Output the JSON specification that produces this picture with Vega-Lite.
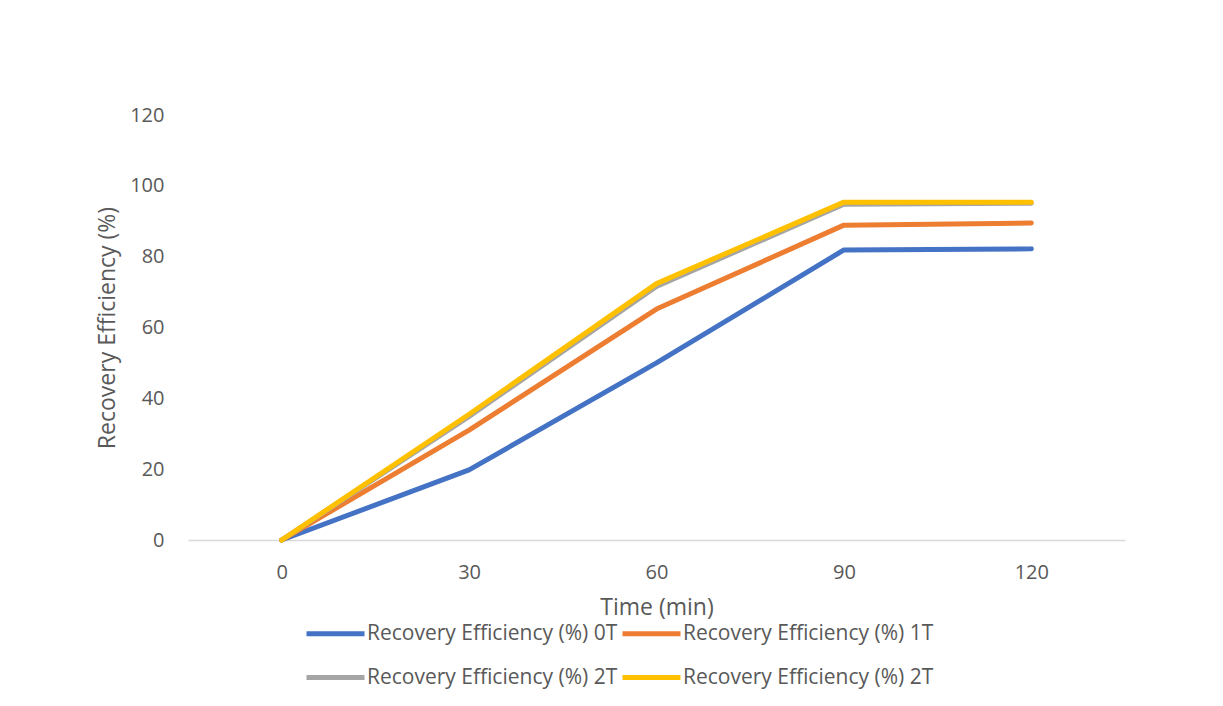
{
  "$schema": "https://vega.github.io/schema/vega-lite/v6.json",
  "autosize": {"type": "none"},
  "width": 937,
  "height": 425,
  "padding": {"left": 188, "top": 115, "right": 98, "bottom": 166},
  "background": "white",
  "config": {
    "view": {"stroke": null},
    "font": "Open Sans",
    "axis": {"labelColor": "#595959", "titleColor": "#595959", "labelFont": "Open Sans", "titleFont": "Open Sans", "titleFontWeight": "normal"},
    "legend": {"labelFont": "Open Sans"}
  },
  "data": {
    "values": [
      {"time": 0, "series": "0T", "value": 0},
      {"time": 30, "series": "0T", "value": 19.8},
      {"time": 60, "series": "0T", "value": 50},
      {"time": 90, "series": "0T", "value": 81.9},
      {"time": 120, "series": "0T", "value": 82.2},
      {"time": 0, "series": "1T", "value": 0},
      {"time": 30, "series": "1T", "value": 31},
      {"time": 60, "series": "1T", "value": 65.2},
      {"time": 90, "series": "1T", "value": 88.9},
      {"time": 120, "series": "1T", "value": 89.5},
      {"time": 0, "series": "2T", "value": 0},
      {"time": 30, "series": "2T", "value": 34.9},
      {"time": 60, "series": "2T", "value": 71.6},
      {"time": 90, "series": "2T", "value": 94.8},
      {"time": 120, "series": "2T", "value": 95.1},
      {"time": 0, "series": "2T*", "value": 0},
      {"time": 30, "series": "2T*", "value": 35.5},
      {"time": 60, "series": "2T*", "value": 72.4},
      {"time": 90, "series": "2T*", "value": 95.4},
      {"time": 120, "series": "2T*", "value": 95.4}
    ]
  },
  "mark": {"type": "line", "strokeWidth": 5, "strokeCap": "round", "strokeJoin": "round"},
  "encoding": {
    "x": {
      "field": "time", "type": "ordinal",
      "scale": {"padding": 0.5},
      "axis": {"title": "Time (min)", "labelAngle": 0, "labelFontSize": 20, "titleFontSize": 23, "ticks": false, "domainColor": "#D9D9D9", "domainWidth": 1.5, "labelPadding": 22, "titlePadding": 14, "grid": false}
    },
    "y": {
      "field": "value", "type": "quantitative",
      "scale": {"domain": [0, 120]},
      "axis": {"title": "Recovery Efficiency (%)", "values": [0, 20, 40, 60, 80, 100, 120], "labelFontSize": 20, "titleFontSize": 23, "ticks": false, "domain": false, "grid": false, "labelPadding": 24, "titlePadding": 10}
    },
    "color": {
      "field": "series", "type": "nominal",
      "scale": {"domain": ["0T", "1T", "2T", "2T*"], "range": ["#4472C4", "#ED7D31", "#A5A5A5", "#FFC000"]},
      "legend": {
        "title": null, "orient": "none", "legendX": 116, "legendY": 487, "columns": 2, "direction": "horizontal",
        "symbolType": "stroke", "symbolSize": 3364, "symbolStrokeWidth": 5,
        "labelExpr": "'Recovery Efficiency (%) ' + replace(datum.label, '*', '')",
        "labelFontSize": 21, "labelColor": "#595959", "labelOffset": 0, "columnPadding": -6, "rowPadding": 2, "labelLimit": 400
      }
    }
  }
}
